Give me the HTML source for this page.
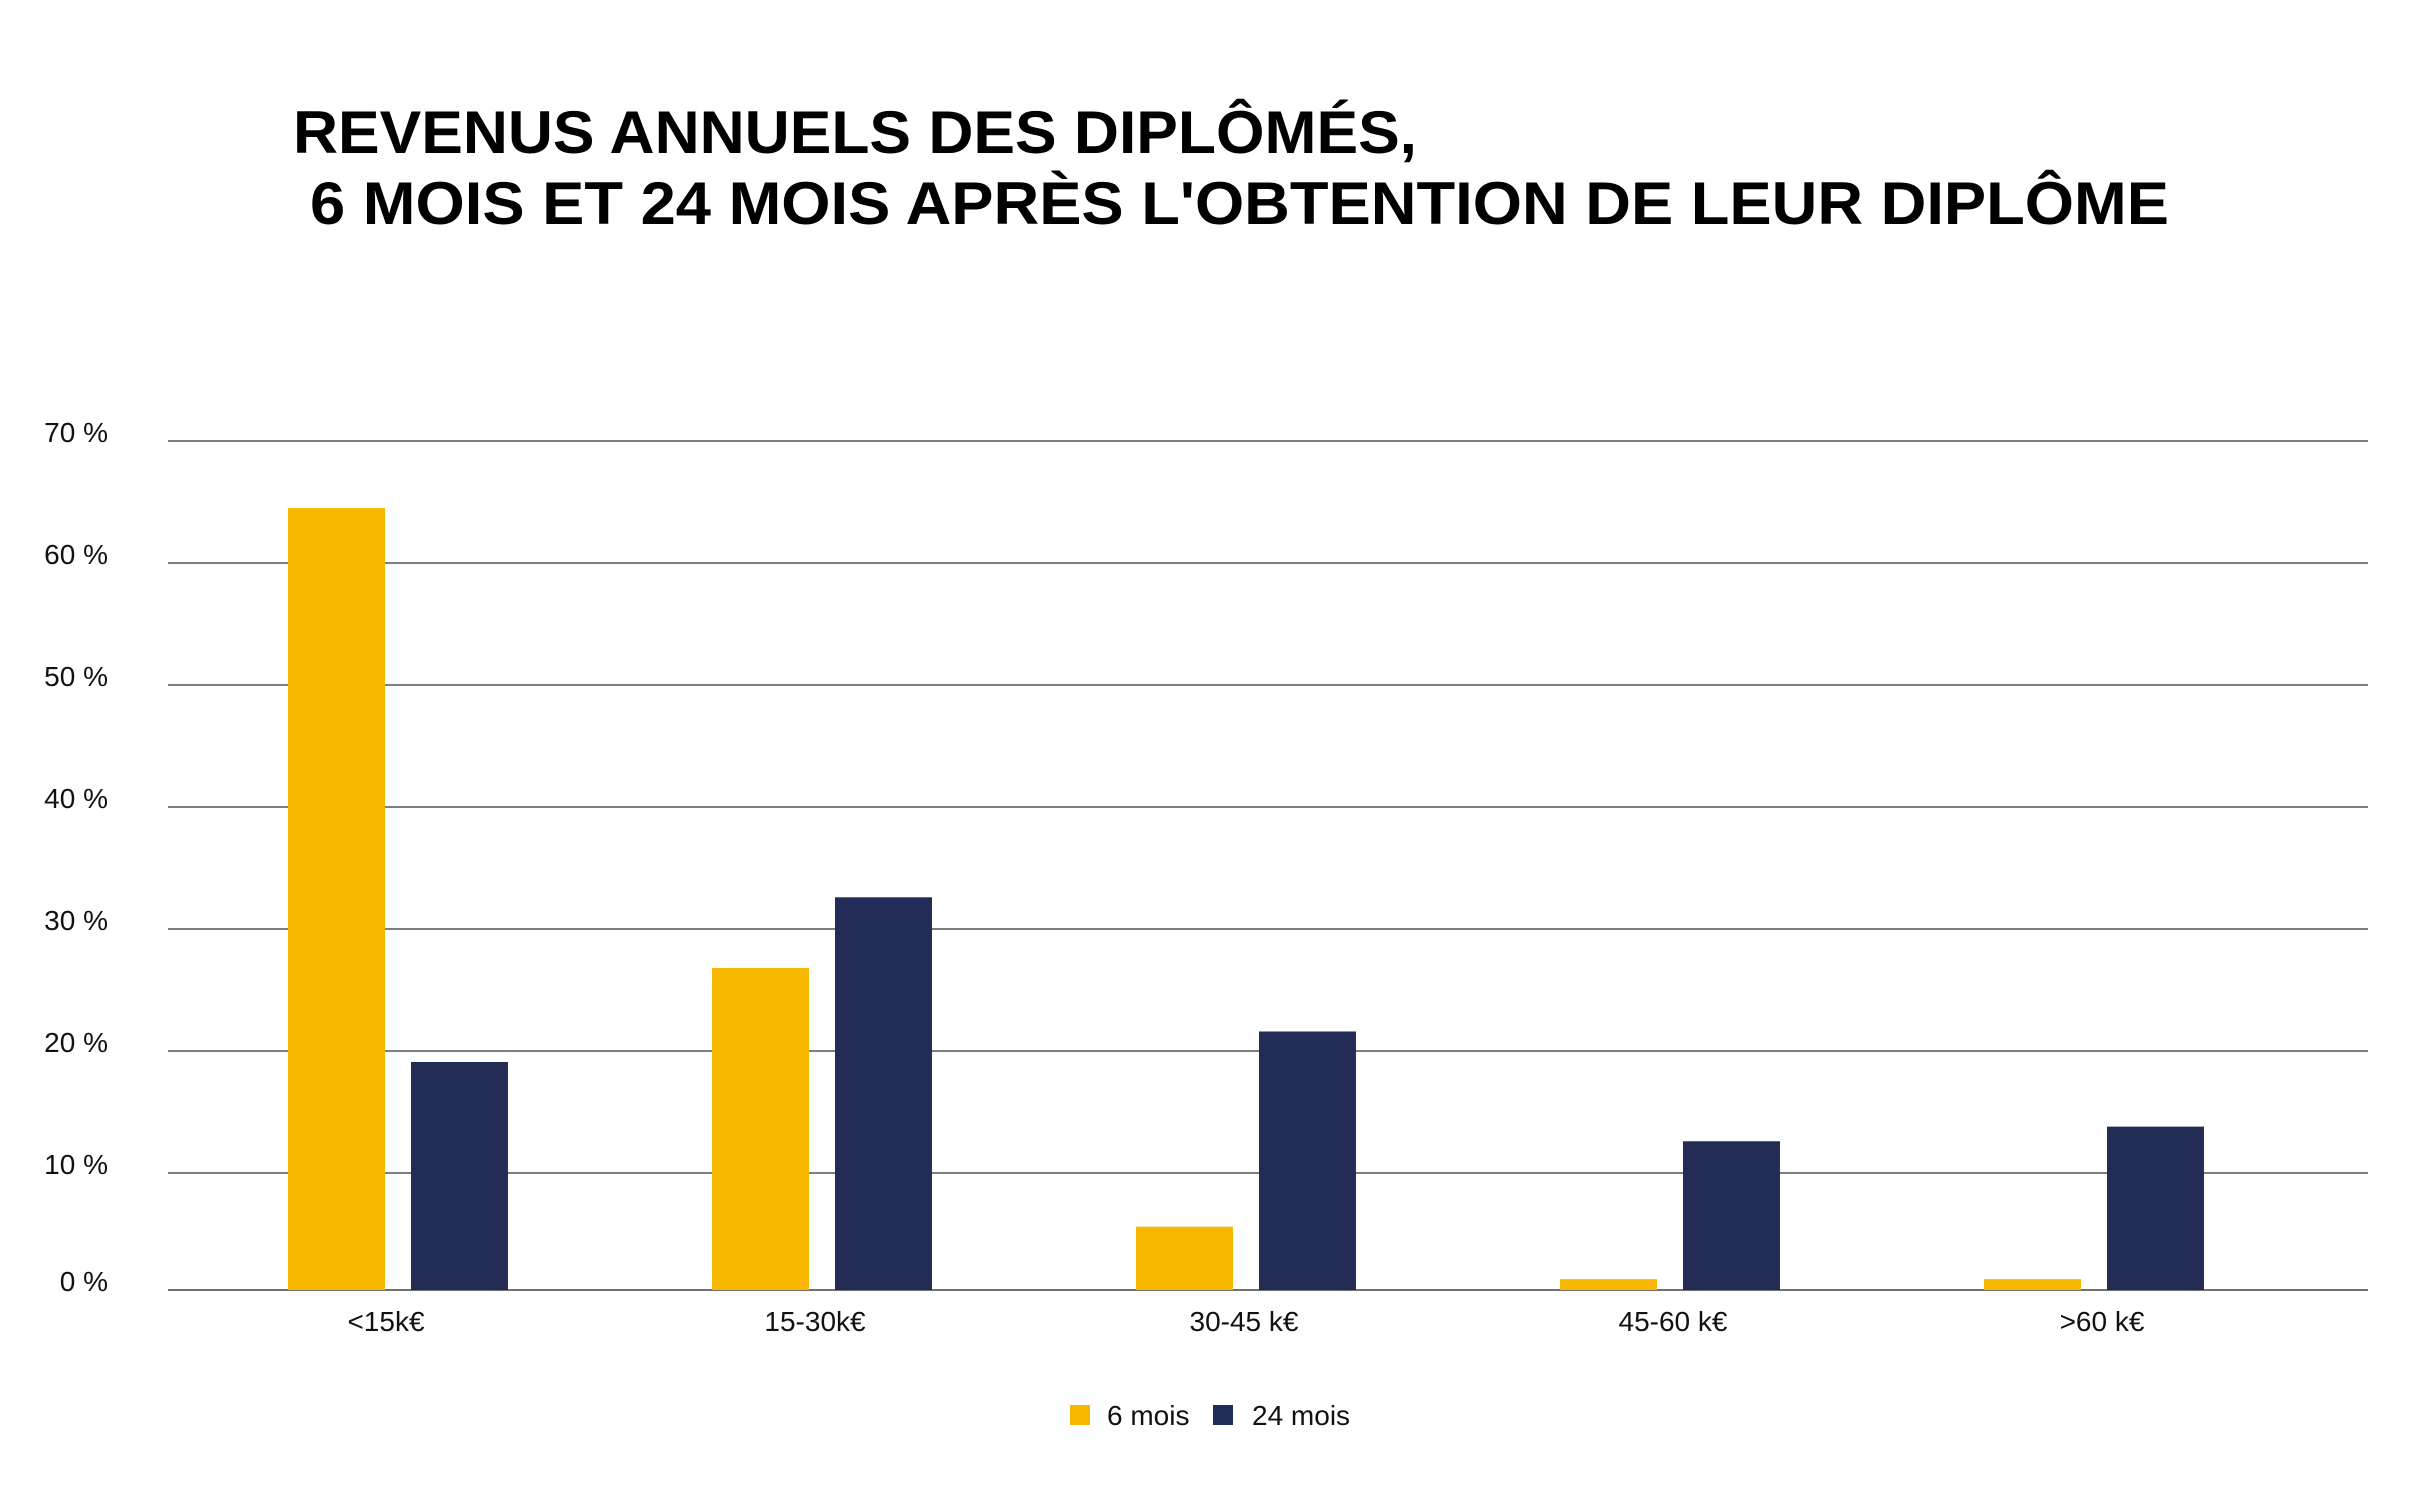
<!DOCTYPE html>
<html><head><meta charset="utf-8"><style>
html,body{margin:0;padding:0;background:#fff;}
svg{display:block;}
text{font-family:"Liberation Sans",sans-serif;}
</style></head><body>
<svg id="chart" width="2416" height="1509" viewBox="0 0 2416 1509" xmlns="http://www.w3.org/2000/svg">
<text x="293" y="153" font-size="60" font-weight="bold" textLength="1124" lengthAdjust="spacingAndGlyphs">REVENUS ANNUELS DES DIPLÔMÉS,</text>
<text x="310" y="224" font-size="60" font-weight="bold" textLength="1859" lengthAdjust="spacingAndGlyphs">6 MOIS ET 24 MOIS APRÈS L'OBTENTION DE LEUR DIPLÔME</text>
<g id="grid"></g>
<g id="ylabels"></g>
<g id="bars"></g>
<g id="xlabels"></g>
<g>
<rect x="1070" y="1405" width="20" height="20" fill="#F9B800"/>
<text x="1107" y="1425" font-size="28" fill="#111">6 mois</text>
<rect x="1213" y="1405" width="20" height="20" fill="#222C56"/>
<text x="1252" y="1425" font-size="28" fill="#111">24 mois</text>
</g>
</svg>
<script>
const categories = ["<15k€", "15-30k€", "30-45 k€", "45-60 k€", ">60 k€"];
const series6 = [64.5, 26.8, 5.6, 1.3, 1.3];
const series24 = [19.1, 32.6, 21.6, 12.6, 13.8];
const yTicks = [0, 10, 20, 30, 40, 50, 60, 70];
const yTickLabels = ["0 %", "10 %", "20 %", "30 %", "40 %", "50 %", "60 %", "70 %"];

const NS = "http://www.w3.org/2000/svg";
const plotLeft = 168, plotRight = 2368, axisY = 1290;
const zeroY = 1295, pxPer = 12.2;
const bandW = 424, firstCenter = 398;
const barW = 97, barGap = 26;
function y(v){ return zeroY - v * pxPer; }
function xCenter(i){ return firstCenter + i * bandW; }
function mk(tag, attrs){ const e = document.createElementNS(NS, tag); for (const k in attrs) e.setAttribute(k, attrs[k]); return e; }

const grid = document.getElementById('grid');
const yl = document.getElementById('ylabels');
yTicks.forEach((t, i) => {
  const gy = t === 0 ? axisY : y(t);
  const ln = mk('line', {x1: plotLeft, x2: plotRight, y1: gy, y2: gy, stroke: t === 0 ? '#444' : '#555', 'stroke-width': 1.5});
  
  
  grid.appendChild(ln);
  const tx = mk('text', {x: 108, y: gy + 1, 'font-size': 28, 'text-anchor': 'end', fill: '#111'});
  tx.textContent = yTickLabels[i];
  
  
  yl.appendChild(tx);
});

const bars = document.getElementById('bars');
const xl = document.getElementById('xlabels');
categories.forEach((c, i) => {
  const cx = xCenter(i);
  const x1 = cx - barGap / 2 - barW;
  const x2 = cx + barGap / 2;
  const b1 = mk('rect', {x: x1, y: y(series6[i]), width: barW, height: axisY - y(series6[i]), fill: '#F9B800'});
  
  
  bars.appendChild(b1);
  const b2 = mk('rect', {x: x2, y: y(series24[i]), width: barW, height: axisY - y(series24[i]), fill: '#222C56'});
  
  
  bars.appendChild(b2);
  const tx = mk('text', {x: cx - 12 + i * 5, y: 1331, 'font-size': 28, 'text-anchor': 'middle', fill: '#111'});
  tx.textContent = c;
  
  
  xl.appendChild(tx);
});
</script>
</body></html>
